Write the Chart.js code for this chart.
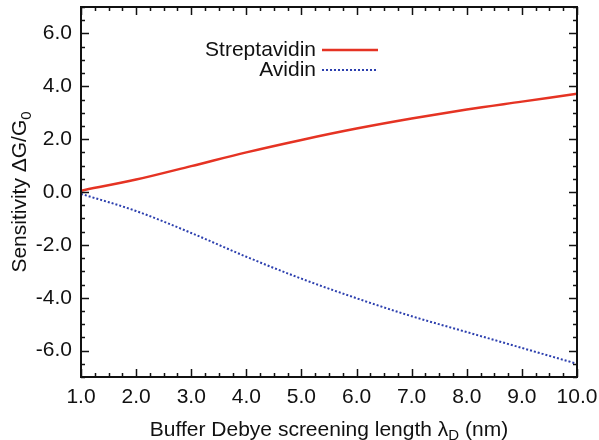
<!DOCTYPE html>
<html>
<head>
<meta charset="utf-8">
<script src="https://cdn.jsdelivr.net/npm/chart.js@4/dist/chart.umd.min.js"></script>
<style>
  html, body { margin: 0; padding: 0; background: #fff; }
  #wrap { width: 599px; height: 440px; }
</style>
</head>
<body>
<div id="wrap"><canvas id="sensChart" width="599" height="440"></canvas></div>
<script>
const xValues = [1, 2, 3, 4, 5, 6, 7, 8, 9, 10]
const streptavidin = [0.05, 0.47, 0.98, 1.5, 1.97, 2.4, 2.78, 3.12, 3.42, 3.72]
const avidin = [-0.07, -0.72, -1.55, -2.45, -3.28, -4.02, -4.7, -5.3, -5.9, -6.5]
const xTicks = [1, 2, 3, 4, 5, 6, 7, 8, 9, 10]
const yTicks = [-6, -4, -2, 0, 2, 4, 6]
const seriesNames = ['Streptavidin', 'Avidin']

const FONT = '"Liberation Sans", Arial, sans-serif'
const RED = '#e53323'
const BLUE = '#2c3fae'

const pts = ys => xValues.map((x, i) => ({ x: x, y: ys[i] }))

// frame, inward ticks, legend and axis titles with subscripts
const decor = {
    id: 'decor',
    afterDraw(chart) {
        const c = chart.ctx
        const a = chart.chartArea
        const xs = chart.scales.x
        const ys = chart.scales.y
        c.save()
        c.strokeStyle = '#111'
        c.lineWidth = 2
        c.strokeRect(a.left, a.top, a.right - a.left, a.bottom - a.top)
        c.lineWidth = 1.5
        c.beginPath()
        for (let v = 1; v <= 10.001; v += 0.25) {
            const p = Math.round(xs.getPixelForValue(v)) + 0.5
            const len = Math.abs(v - Math.round(v)) < 0.01 ? 8 : 4
            c.moveTo(p, a.bottom); c.lineTo(p, a.bottom - len)
            c.moveTo(p, a.top); c.lineTo(p, a.top + len)
        }
        for (let v = -7; v <= 7.001; v += 0.5) {
            const p = Math.round(ys.getPixelForValue(v)) + 0.5
            const len = yTicks.includes(Math.round(v)) && Math.abs(v - Math.round(v)) < 0.01 ? 8 : 4
            c.moveTo(a.left, p); c.lineTo(a.left + len, p)
            c.moveTo(a.right, p); c.lineTo(a.right - len, p)
        }
        c.stroke()

        // legend
        c.font = '21px ' + FONT
        c.fillStyle = '#111'
        c.textAlign = 'right'
        c.textBaseline = 'middle'
        c.fillText(seriesNames[0], 316, 50)
        c.fillText(seriesNames[1], 316, 70)
        c.lineWidth = 2.5
        c.strokeStyle = RED
        c.beginPath(); c.moveTo(322, 50); c.lineTo(378, 50); c.stroke()
        c.lineWidth = 2
        c.strokeStyle = BLUE
        c.setLineDash([2, 2])
        c.beginPath(); c.moveTo(322, 70); c.lineTo(378, 70); c.stroke()
        c.setLineDash([])

        // x title
        c.textAlign = 'left'
        c.textBaseline = 'alphabetic'
        const p1 = 'Buffer Debye screening length \u03bb'
        const p2 = 'D'
        const p3 = ' (nm)'
        c.font = '21px ' + FONT
        const w1 = c.measureText(p1).width
        const w3 = c.measureText(p3).width
        c.font = '15px ' + FONT
        const w2 = c.measureText(p2).width
        let x0 = (a.left + a.right) / 2 - (w1 + w2 + w3) / 2
        c.font = '21px ' + FONT
        c.fillText(p1, x0, 436)
        c.font = '15px ' + FONT
        c.fillText(p2, x0 + w1, 440)
        c.font = '21px ' + FONT
        c.fillText(p3, x0 + w1 + w2, 436)

        // y title
        c.translate(26, (a.top + a.bottom) / 2)
        c.rotate(-Math.PI / 2)
        const q1 = 'Sensitivity \u0394G/G'
        const q2 = '0'
        c.font = '21px ' + FONT
        const v1 = c.measureText(q1).width
        c.font = '15px ' + FONT
        const v2 = c.measureText(q2).width
        const y0 = -(v1 + v2) / 2
        c.font = '21px ' + FONT
        c.fillText(q1, y0, 0)
        c.font = '15px ' + FONT
        c.fillText(q2, y0 + v1, 5)
        c.restore()
    }
}

new Chart(document.getElementById('sensChart').getContext('2d'), {
    type: 'line',
    data: {
        datasets: [{
            label: seriesNames[0],
            data: pts(streptavidin),
            borderColor: RED,
            borderWidth: 2.5,
            pointRadius: 0,
            cubicInterpolationMode: 'monotone'
        }, {
            label: seriesNames[1],
            data: pts(avidin),
            borderColor: BLUE,
            borderWidth: 2,
            borderDash: [2, 2],
            pointRadius: 0,
            cubicInterpolationMode: 'monotone'
        }]
    },
    options: {
        responsive: false,
        animation: false,
        layout: { padding: { left: 0, right: 22, top: 7, bottom: 0 } },
        plugins: { legend: { display: false }, tooltip: { enabled: false } },
        scales: {
            x: {
                type: 'linear',
                min: 1, max: 10,
                afterBuildTicks: s => { s.ticks = xTicks.map(v => ({ value: v })) },
                afterFit: s => { s.height = 63; s.paddingLeft = 0; s.paddingRight = 0 },
                grid: { display: false, drawTicks: false },
                border: { display: false },
                ticks: {
                    autoSkip: false,
                    maxRotation: 0,
                    padding: 8,
                    color: '#111',
                    font: { family: FONT, size: 21 },
                    callback: v => v.toFixed(1)
                }
            },
            y: {
                min: -7, max: 7,
                afterBuildTicks: s => { s.ticks = yTicks.map(v => ({ value: v })) },
                afterFit: s => { s.width = 81; s.paddingTop = 0; s.paddingBottom = 0 },
                grid: { display: false, drawTicks: false },
                border: { display: false },
                ticks: {
                    padding: 9,
                    color: '#111',
                    font: { family: FONT, size: 21 },
                    callback: v => v.toFixed(1)
                }
            }
        }
    },
    plugins: [decor]
})
</script>
</body>
</html>
